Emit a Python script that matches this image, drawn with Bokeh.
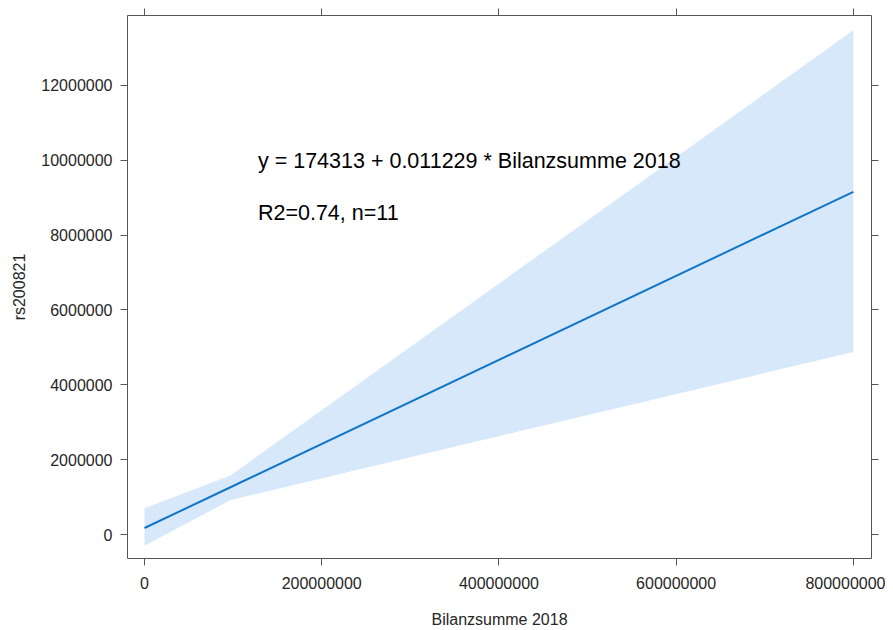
from bokeh.plotting import figure
from bokeh.models import LinearAxis, FixedTicker, Range1d, ColumnDataSource
from bokeh.embed import file_html
from bokeh.resources import INLINE
from bokeh.core.properties import value

# ---- data ----
x_vals = [0, 97e6, 800e6]
fit_vals = [174313, 1263000, 9157000]
lower_vals = [-300000, 920000, 4880000]
upper_vals = [700000, 1580000, 13470000]

x_ticks = [0, 200e6, 400e6, 600e6, 800e6]
x_tick_labels = ["0", "200000000", "400000000", "600000000", "800000000"]
y_ticks = [0, 2e6, 4e6, 6e6, 8e6, 10e6, 12e6]
y_tick_labels = ["0", "2000000", "4000000", "6000000", "8000000", "10000000", "12000000"]

eq_text = ["y = 174313 + 0.011229 * Bilanzsumme 2018"]
r2_text = ["R2=0.74, n=11"]

FONT = "Liberation Sans"
AXCOL = "#555555"
TXTCOL = "#262626"

p = figure(width=885, height=630, output_backend="svg", toolbar_location=None,
           x_range=Range1d(-19.2e6, 820.5e6), y_range=Range1d(-0.64e6, 13.867e6),
           min_border_left=127, min_border_right=14, min_border_top=15, min_border_bottom=71,
           x_axis_label="Bilanzsumme 2018", y_axis_label="rs200821")
p.grid.visible = False
p.outline_line_color = AXCOL
p.outline_line_width = 1
p.background_fill_color = "white"
p.border_fill_color = "white"

src = ColumnDataSource(dict(x=x_vals, fit=fit_vals, lo=lower_vals, hi=upper_vals))
p.varea(x="x", y1="lo", y2="hi", source=src, fill_color="#d6e8fa", fill_alpha=1.0)
p.line(x="x", y="fit", source=src, line_color="#1276c8", line_width=2)

def style_axis(ax, ticks, labels, show_labels):
    ax.ticker = FixedTicker(ticks=ticks)
    ax.axis_line_color = None
    ax.major_tick_line_color = AXCOL
    ax.major_tick_out = 7
    ax.major_tick_in = 0
    ax.minor_tick_line_color = None
    if show_labels:
        ax.major_label_overrides = {t: l for t, l in zip(ticks, labels)}
        ax.major_label_text_font = FONT
        ax.major_label_text_font_size = "16px"
        ax.major_label_text_color = TXTCOL
    else:
        ax.major_label_text_font_size = "0px"
        ax.major_label_text_color = None
        ax.major_label_standoff = 0
    ax.axis_label_text_font = FONT
    ax.axis_label_text_font_size = "16px"
    ax.axis_label_text_font_style = "normal"
    ax.axis_label_text_color = TXTCOL

style_axis(p.xaxis[0], x_ticks, x_tick_labels, True)
p.xaxis[0].major_label_standoff = 11
p.xaxis[0].axis_label_standoff = 19
style_axis(p.yaxis[0], y_ticks, y_tick_labels, True)
p.yaxis[0].major_label_standoff = 8
p.yaxis[0].axis_label_standoff = 10

top_ax = LinearAxis()
style_axis(top_ax, x_ticks, x_tick_labels, False)
p.add_layout(top_ax, "above")
right_ax = LinearAxis()
style_axis(right_ax, y_ticks, y_tick_labels, False)
p.add_layout(right_ax, "right")

p.text(x=[128e6], y=[9.99e6], text=eq_text, text_font=value(FONT), text_font_size="21.5px",
       text_color="black", text_align="left", text_baseline="alphabetic")
p.text(x=[128e6], y=[8.60e6], text=r2_text, text_font=value(FONT), text_font_size="21.5px",
       text_color="black", text_align="left", text_baseline="alphabetic")

open("out.html", "w").write(file_html(p, INLINE))
